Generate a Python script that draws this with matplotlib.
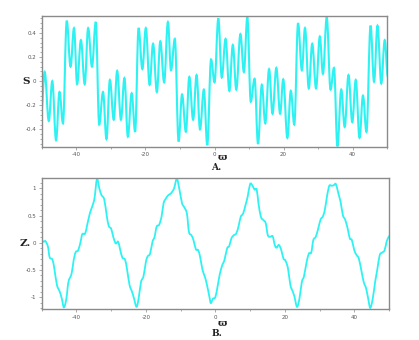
import matplotlib
matplotlib.use("Agg")
import matplotlib.pyplot as plt
from matplotlib.ticker import AutoMinorLocator
from matplotlib.path import Path
from matplotlib.patches import PathPatch

# Panel A: S vs varpi (extrema)
s_x = [-50.2, -49.2, -48.0, -47.0, -45.9, -44.9, -43.9, -42.8, -41.7, -40.7, -39.8, -38.7,
       -37.6, -36.6, -35.5, -34.4, -33.4, -32.3, -31.3, -30.3, -29.2, -28.2, -27.1, -26.1,
       -25.1, -24.0, -23.0, -22.0, -20.9, -19.9, -18.8, -17.8, -16.7, -15.7, -14.6, -13.5,
       -12.6, -11.5, -10.4, -9.4, -8.3, -7.3, -6.2, -5.2, -4.2, -3.1, -2.1, -1.0, 0.0,
       1.1, 2.1, 3.2, 4.3, 5.3, 6.3, 7.5, 8.5, 9.5, 10.5, 11.6, 12.6, 13.7, 14.7, 15.8,
       16.8, 17.9, 19.0, 19.9, 21.1, 22.1, 23.1, 24.2, 25.3, 26.2, 27.3, 28.3, 29.4, 30.5,
       31.4, 32.5, 33.6, 34.6, 35.6, 36.7, 37.7, 38.8, 39.9, 40.9, 42.0, 43.0, 44.0, 45.2,
       46.2, 47.2, 48.3, 49.3, 50.2]
s_y = [-0.27, 0.077, -0.33, 0.0, -0.49, -0.09, -0.35, 0.50, 0.12, 0.44, -0.025, 0.34,
       -0.025, 0.44, 0.12, 0.49, -0.36, -0.09, -0.48, 0.01, -0.32, 0.085, -0.32, 0.025,
       -0.46, -0.10, -0.42, 0.44, 0.10, 0.44, -0.03, 0.31, -0.09, 0.33, -0.01, 0.49,
       0.09, 0.35, -0.50, -0.11, -0.42, 0.035, -0.32, 0.05, -0.40, -0.07, -0.53, 0.18, -0.01,
       0.52, 0.03, 0.35, -0.08, 0.30, -0.07, 0.39, 0.075, 0.53, -0.17, 0.02, -0.52, -0.03, -0.35, 0.10,
       -0.27, 0.11, -0.27, 0.015, -0.47, -0.08, -0.36, 0.48, 0.09, 0.44, -0.06, 0.31, -0.06, 0.37,
       0.06, 0.53, -0.07, 0.11, -0.54, -0.07, -0.38, 0.05, -0.34, 0.01, -0.47, -0.12, -0.42, 0.46,
       -0.005, 0.46, -0.02, 0.34, 0.036]

# Panel B: Z vs varpi
z_x = [-50.1, -49.4, -48.9, -48.2, -47.7, -46.9, -46.3, -45.6, -44.8, -44.2, -43.6, -42.9,
       -42.3, -41.4, -40.8, -40.2, -39.5, -38.8, -38.3, -37.5, -36.9, -36.1, -35.5, -34.8,
       -34.1, -33.4, -32.8, -32.0, -31.3, -30.7, -30.0, -29.4, -28.7, -28.0, -27.5, -26.8,
       -26.0, -25.4, -24.7, -24.0, -23.4, -22.7, -22.1, -21.4, -20.7, -20.0, -19.5, -18.8,
       -18.1, -17.5, -16.9, -16.2, -15.5, -14.9, -14.2, -13.5, -12.8, -11.9, -11.1, -10.4,
       -9.6, -9.0, -8.2, -7.6, -6.9, -6.3, -5.6, -4.9, -4.3, -3.7, -3.0, -2.4, -1.7, -1.3,
       -0.7, 0.0, 0.7, 1.3, 2.0, 2.6, 3.4, 4.0, 4.6, 5.3, 6.0, 6.7, 7.3, 8.0, 8.7, 9.3,
       10.0, 10.6, 11.3, 11.9, 12.4, 13.1, 13.8, 14.5, 15.1, 15.8, 16.5, 17.1, 17.6, 18.3,
       19.0, 19.6, 20.2, 20.9, 21.6, 22.3, 22.8, 23.5, 24.2, 24.9, 25.5, 26.2, 26.9, 27.6,
       28.2, 28.9, 29.6, 30.3, 30.9, 31.5, 32.2, 32.8, 33.4, 34.1, 34.7, 35.4, 36.1, 36.7,
       37.4, 38.1, 38.7, 39.3, 40.0, 40.7, 41.3, 42.0, 42.7, 43.4, 44.0, 44.6, 45.3, 46.0,
       46.6, 47.3, 48.0, 48.7, 49.3, 49.9, 50.3]
z_y = [0.05, 0.02, 0.03, -0.07, -0.27, -0.31, -0.50, -0.78, -0.90, -1.03, -1.19, -1.03,
       -0.72, -0.57, -0.32, -0.17, -0.14, 0.02, 0.16, 0.17, 0.33, 0.55, 0.66, 0.82,
       1.17, 1.0, 0.88, 0.80, 0.51, 0.31, 0.26, 0.11, -0.01, 0.02, -0.10, -0.27,
       -0.31, -0.50, -0.78, -0.90, -1.03, -1.18, -1.03, -0.72, -0.62, -0.35, -0.25, -0.20,
       0.02, 0.11, 0.30, 0.33, 0.48, 0.73, 0.82, 0.88, 0.91, 1.0, 1.18, 1.0,
       0.73, 0.66, 0.54, 0.20, 0.14, 0.05, -0.12, -0.14, -0.29, -0.50, -0.63, -0.78, -1.0, -1.11,
       -1.03, -1.0, -0.78, -0.57, -0.41, -0.32, -0.10, -0.06, 0.08, 0.14, 0.17, 0.31, 0.48, 0.54, 0.70, 0.85,
       1.08, 1.06, 0.98, 0.98, 0.73, 0.48, 0.42, 0.36, 0.14, 0.11, 0.12, -0.04, -0.09, -0.04,
       -0.14, -0.29, -0.33, -0.47, -0.78, -0.90, -1.0, -1.18, -1.03, -0.72, -0.62, -0.38, -0.20, -0.18,
       0.05, 0.11, 0.26, 0.43, 0.48, 0.60, 0.88, 1.05, 1.05, 1.06, 1.08, 0.91, 0.74, 0.51,
       0.42, 0.26, 0.08, 0.05, -0.14, -0.23, -0.29, -0.50, -0.72, -0.84, -1.03, -1.20, -1.03, -0.72,
       -0.50, -0.23, -0.18, -0.14, 0.02, 0.11, 0.14]

s_yticks = [-0.4, -0.2, 0, 0.2, 0.4]
s_ylabels = ["-0.4", "-0.2", "0", "0.2", "0.4"]
z_yticks = [-1, -0.5, 0, 0.5, 1]
z_ylabels = ["-1", "-0.5", "0", "0.5", "1"]
xticks = [-40, -20, 0, 20, 40]
xlabels = ["-40", "-20", "0", "20", "40"]

CYAN = "#2EF2F2"
GRAY = "#8a8a8a"

fig = plt.figure(figsize=(4.19, 3.40), dpi=100)
axA = fig.add_axes([0.100, 0.568, 0.824, 0.385])
axB = fig.add_axes([0.0995, 0.091, 0.829, 0.385])


def style(ax, yt, yl):
    ax.set_xlim(-50, 50)
    ax.set_xticks(xticks)
    ax.set_xticklabels(xlabels)
    ax.set_yticks(yt)
    ax.set_yticklabels(yl)
    ax.xaxis.set_minor_locator(AutoMinorLocator(2))
    ax.yaxis.set_minor_locator(AutoMinorLocator(5))
    ax.tick_params(which="both", labelsize=4, colors=GRAY, labelcolor="#555555",
                   length=2, width=0.5, pad=2)
    ax.tick_params(which="minor", length=1.2)
    for sp in ax.spines.values():
        sp.set_color(GRAY)
        sp.set_linewidth(1.0)


def extrema_path(xs, ys, k=0.38):
    # cubic Bezier through extrema with flat tangents at each extremum
    verts = [(xs[0], ys[0])]
    codes = [Path.MOVETO]
    for i in range(len(xs) - 1):
        dx = xs[i + 1] - xs[i]
        verts += [(xs[i] + k * dx, ys[i]), (xs[i + 1] - k * dx, ys[i + 1]), (xs[i + 1], ys[i + 1])]
        codes += [Path.CURVE4] * 3
    return Path(verts, codes)


def catmull_path(xs, ys):
    # Catmull-Rom style cubic Bezier through the read points
    n = len(xs)
    verts = [(xs[0], ys[0])]
    codes = [Path.MOVETO]
    for i in range(n - 1):
        i0 = max(i - 1, 0)
        i3 = min(i + 2, n - 1)
        c1 = (xs[i] + (xs[i + 1] - xs[i0]) / 6, ys[i] + (ys[i + 1] - ys[i0]) / 6)
        c2 = (xs[i + 1] - (xs[i3] - xs[i]) / 6, ys[i + 1] - (ys[i3] - ys[i]) / 6)
        verts += [c1, c2, (xs[i + 1], ys[i + 1])]
        codes += [Path.CURVE4] * 3
    return Path(verts, codes)


axA.add_patch(PathPatch(extrema_path(s_x, s_y), facecolor="none", edgecolor=CYAN, lw=1.5))
axA.set_ylim(-0.545, 0.54)
style(axA, s_yticks, s_ylabels)

axB.add_patch(PathPatch(catmull_path(z_x, z_y), facecolor="none", edgecolor=CYAN, lw=1.3))
axB.set_ylim(-1.22, 1.19)
style(axB, z_yticks, z_ylabels)

tf = dict(family="DejaVu Serif", fontweight="bold", color="#222222")
fig.text(26 / 419, 1 - 81 / 340, "S", fontsize=7.5, ha="center", va="center", **tf)
fig.text(222 / 419, 1 - 158 / 340, "ϖ", fontsize=7, ha="center", va="center", **tf)
fig.text(216 / 419, 1 - 168 / 340, "A.", fontsize=6.5, ha="center", va="center", **tf)
fig.text(25 / 419, 1 - 243 / 340, "Z.", fontsize=7.5, ha="center", va="center", **tf)
fig.text(222 / 419, 1 - 323 / 340, "ϖ", fontsize=7, ha="center", va="center", **tf)
fig.text(217 / 419, 1 - 333 / 340, "B.", fontsize=6.5, ha="center", va="center", **tf)

fig.savefig("out.png", dpi=100)
